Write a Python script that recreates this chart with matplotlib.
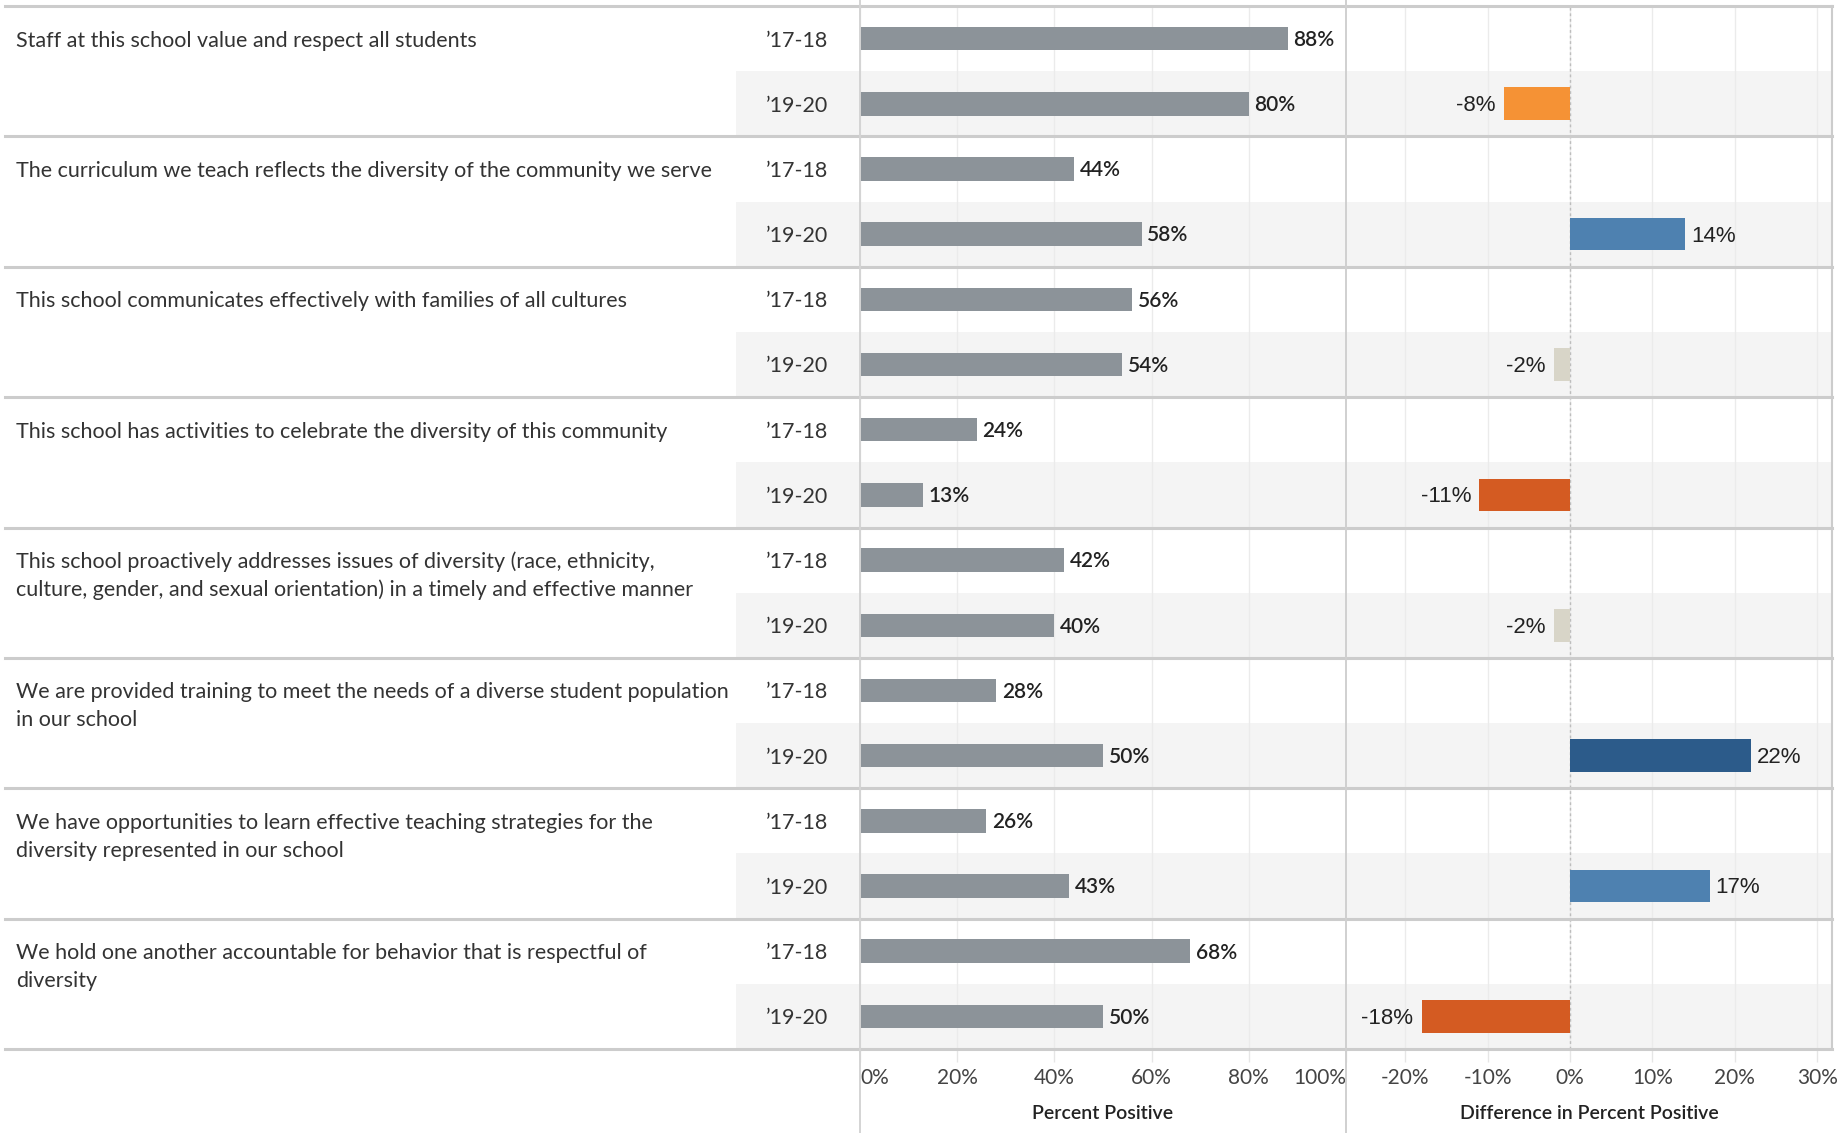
import matplotlib
matplotlib.use("Agg")
import matplotlib.pyplot as plt
from matplotlib.lines import Line2D
import numpy as np

plt.rcParams['font.family'] = ['Lato', 'DejaVu Sans']

# survey items, two school years each
questions = [
    "Staff at this school value and respect all students",
    "The curriculum we teach reflects the diversity of the community we serve",
    "This school communicates effectively with families of all cultures",
    "This school has activities to celebrate the diversity of this community",
    "This school proactively addresses issues of diversity (race, ethnicity,\nculture, gender, and sexual orientation) in a timely and effective manner",
    "We are provided training to meet the needs of a diverse student population\nin our school",
    "We have opportunities to learn effective teaching strategies for the\ndiversity represented in our school",
    "We hold one another accountable for behavior that is respectful of\ndiversity",
]
years = ["\u201917-18", "\u201919-20"]
pct_1718 = [88, 44, 56, 24, 42, 28, 26, 68]
pct_1920 = [80, 58, 54, 13, 40, 50, 43, 50]
pct_ticks = [0, 20, 40, 60, 80, 100]
diff_ticks = [-20, -10, 0, 10, 20, 30]

diff = [b - a for a, b in zip(pct_1718, pct_1920)]


def diff_color(v):
    if v <= -10:
        return "#d45b22"
    if v <= -5:
        return "#f59235"
    if v < 5:
        return "#d8d5c8"
    if v < 20:
        return "#4e81b0"
    return "#2c5b8a"


W, H = 1847, 1133
fig = plt.figure(figsize=(W / 100, H / 100), dpi=100)


def rect(x0, x1, y0, y1):
    return [x0 / W, 1 - y1 / H, (x1 - x0) / W, (y1 - y0) / H]


TOP, BOT = 6, 1049
ax_lab = fig.add_axes(rect(0, 860, TOP, BOT))
ax_pct = fig.add_axes(rect(860, 1346, TOP, BOT), sharey=ax_lab)
ax_dif = fig.add_axes(rect(1346, 1832, TOP, BOT), sharey=ax_lab)

n = len(questions)
ax_lab.set_ylim(2 * n, 0)
ax_lab.set_xlim(0, 860)
ax_pct.set_xlim(0, 100)
ax_dif.set_xlim(-27.2, 31.8)

for ax in (ax_lab, ax_pct, ax_dif):
    for s in ax.spines.values():
        s.set_visible(False)
    ax.tick_params(left=False, labelleft=False)
    ax.set_facecolor("none")

# shaded '19-20 rows
for i in range(n):
    y19 = 2 * i + 1
    ax_lab.axhspan(y19, y19 + 1, xmin=736 / 860, xmax=1, color="#f4f4f4", lw=0, zorder=0)
    ax_pct.axhspan(y19, y19 + 1, color="#f4f4f4", lw=0, zorder=0)
    ax_dif.axhspan(y19, y19 + 1, color="#f4f4f4", lw=0, zorder=0)

# labels column
ax_lab.set_xticks([])
for i, q in enumerate(questions):
    for k, line in enumerate(q.split("\n")):
        ax_lab.text(16, 2 * i + 0.53 + k * 0.43, line, ha="left", va="center",
                    fontsize=15.5, color="#333333")
    for j, yr in enumerate(years):
        ax_lab.text(828, 2 * i + 0.53 + j, yr, ha="right", va="center",
                    fontsize=15.5, color="#333333")

# percent positive bars
y17 = np.arange(n) * 2 + 0.5
y19 = y17 + 1
ax_pct.grid(axis="x", color="#ebebeb", lw=1, zorder=0)
ax_pct.set_axisbelow(True)
ax_pct.barh(y17, pct_1718, height=0.36, color="#8c9399", zorder=2)
ax_pct.barh(y19, pct_1920, height=0.36, color="#8c9399", zorder=2)
for yy, vals in ((y17, pct_1718), (y19, pct_1920)):
    for y, v in zip(yy, vals):
        ax_pct.annotate(f"{v}%", (v, y + 0.02), xytext=(4, 0), textcoords="offset points",
                        ha="left", va="center", fontsize=15, fontweight="semibold",
                        color="#222222")
ax_pct.set_xticks(pct_ticks, labels=[f"{t}%" for t in pct_ticks])
tl = ax_pct.get_xticklabels()
tl[0].set_ha("left")
tl[-1].set_ha("right")
ax_pct.set_xlabel("Percent Positive", fontsize=14, fontweight="semibold",
                  color="#222222", labelpad=12)

# difference bars
ax_dif.grid(axis="x", color="#ebebeb", lw=1, zorder=0)
ax_dif.set_axisbelow(True)
ax_dif.axvline(0, color="#bdbdbd", lw=1, ls=(0, (2, 2)), zorder=1)
ax_dif.barh(y19, diff, height=0.5, color=[diff_color(v) for v in diff], zorder=2)
for y, v in zip(y19, diff):
    if v < 0:
        ax_dif.annotate(f"{v}%", (v, y + 0.03), xytext=(-6, 0), textcoords="offset points",
                        ha="right", va="center", fontsize=16, color="#222222",
                        family="Liberation Sans")
    else:
        ax_dif.annotate(f"{v}%", (v, y + 0.03), xytext=(4, 0), textcoords="offset points",
                        ha="left", va="center", fontsize=16, color="#222222",
                        family="Liberation Sans")
ax_dif.set_xticks(diff_ticks, labels=[f"{t}%" for t in diff_ticks])
ax_dif.set_xlabel("Difference in Percent Positive", fontsize=14, fontweight="semibold",
                  color="#222222", labelpad=12)
ax_dif.spines["right"].set_visible(True)
ax_dif.spines["right"].set_color("#cccccc")
ax_dif.spines["right"].set_linewidth(1.5)

for ax in (ax_pct, ax_dif):
    ax.tick_params(axis="x", length=9, width=1, color="#e6e6e6", labelsize=15,
                   labelcolor="#444444", pad=5)

# group separators across the whole width
for g in range(n + 1):
    ax_lab.axhline(2 * g, xmin=5 / 860, color="#cccccc", lw=2.2, zorder=5, clip_on=False)
    for ax in (ax_pct, ax_dif):
        ax.axhline(2 * g, color="#cccccc", lw=2.2, zorder=5, clip_on=False)

# panel borders running to the bottom
for xpx, col in ((860, "#d4d4d4"), (1346, "#d0d0d0")):
    fig.add_artist(Line2D([xpx / W, xpx / W], [0, 1], color=col, lw=1.4,
                          transform=fig.transFigure))

fig.savefig("out.png", dpi=100)
